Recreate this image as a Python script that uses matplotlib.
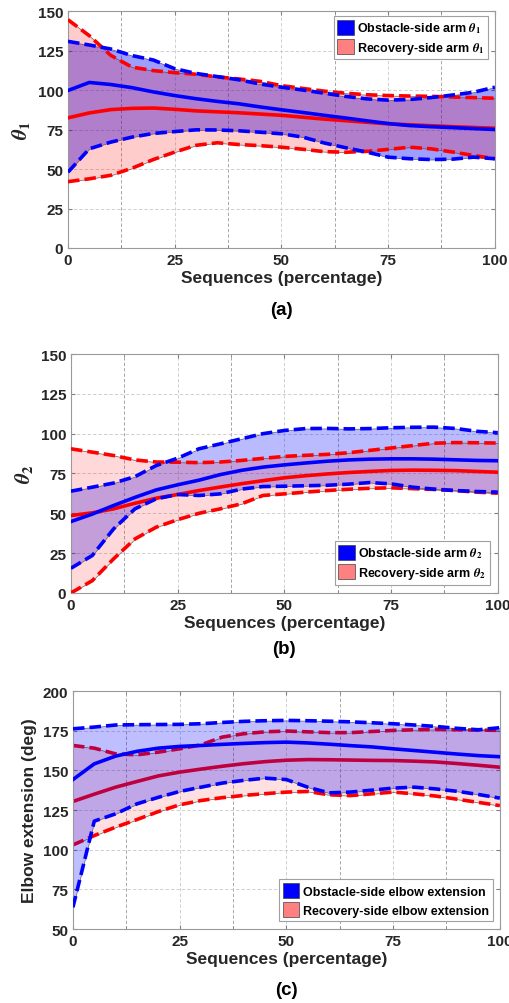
import numpy as np
import matplotlib
matplotlib.use("Agg")
import matplotlib.pyplot as plt
from matplotlib.patches import Patch
from matplotlib.ticker import MultipleLocator

plt.rcParams['font.family'] = ['Liberation Sans', 'DejaVu Sans']
plt.rcParams['font.weight'] = 'bold'
plt.rcParams['axes.labelweight'] = 'bold'
plt.rcParams['mathtext.fontset'] = 'stix'

# sequence position (percentage)
seq = [0, 5, 10, 15, 20, 25, 30, 35, 40, 45, 50, 55, 60, 65, 70, 75, 80, 85, 90, 95, 100]
x_ticks = [0, 25, 50, 75, 100]

# (a) theta 1
a_obs_mean = [99.7, 104.8, 103.5, 101.5, 98.8, 96.5, 94.5, 92.8, 91.3, 89.3, 87.5,
              85.8, 84.0, 82.3, 80.5, 78.8, 77.5, 76.8, 76.2, 75.6, 75.0]
a_obs_up = [130.8, 128.5, 126.0, 121.8, 119.0, 113.5, 110.5, 108.5, 106.5, 103.8, 101.8,
            100.0, 98.0, 96.0, 94.4, 93.6, 94.0, 95.2, 96.8, 98.6, 101.8]
a_obs_lo = [48.0, 62.8, 67.0, 70.2, 72.5, 73.7, 74.8, 74.7, 74.2, 73.3, 72.3,
            70.2, 66.5, 63.5, 60.7, 57.5, 56.5, 56.0, 56.2, 57.5, 56.5]
a_rec_mean = [82.4, 85.5, 87.6, 88.4, 88.6, 87.8, 86.8, 86.2, 85.6, 84.8, 84.0,
              82.8, 81.6, 80.6, 79.6, 78.6, 78.0, 77.4, 76.8, 76.3, 75.8]
a_rec_up = [144.5, 134.4, 122.0, 114.5, 112.3, 111.0, 110.0, 108.3, 107.0, 105.5, 102.8,
            101.0, 99.3, 98.0, 97.0, 96.5, 96.2, 96.0, 95.6, 95.2, 94.8]
a_rec_lo = [42.0, 43.8, 46.0, 50.5, 56.0, 60.7, 65.0, 66.6, 65.5, 64.8, 63.8,
            62.5, 61.0, 60.6, 61.2, 62.4, 63.8, 62.8, 60.8, 58.6, 56.5]

# (b) theta 2
b_obs_mean = [44.8, 49.5, 54.9, 60.0, 64.7, 67.9, 70.8, 74.3, 77.0, 79.0, 80.4,
              81.6, 82.7, 83.5, 84.0, 84.2, 84.2, 84.0, 83.6, 83.2, 83.0]
b_obs_up = [63.9, 66.4, 69.0, 73.0, 80.0, 84.6, 90.5, 93.6, 96.8, 100.0, 102.0,
            103.2, 103.3, 103.0, 103.2, 103.7, 104.0, 104.1, 103.3, 101.5, 100.6]
b_obs_lo = [15.5, 23.5, 40.2, 52.8, 59.1, 61.8, 61.2, 62.2, 65.2, 66.8, 67.0,
            67.3, 67.6, 68.3, 69.3, 68.5, 66.4, 65.2, 64.3, 63.7, 63.3]
b_rec_mean = [48.6, 50.3, 52.8, 56.3, 59.5, 61.8, 64.3, 66.5, 68.6, 70.5, 72.3,
              73.6, 74.7, 75.6, 76.3, 76.9, 77.1, 77.0, 76.8, 76.3, 75.8]
b_rec_up = [90.5, 88.4, 86.3, 83.5, 82.2, 82.1, 81.8, 82.2, 83.2, 84.5, 85.7,
            86.4, 87.0, 88.0, 89.5, 91.0, 92.5, 94.0, 94.4, 94.3, 94.1]
b_rec_lo = [0.0, 7.7, 21.4, 33.9, 41.3, 46.0, 50.0, 52.8, 56.0, 61.2, 62.2,
            63.3, 64.3, 65.1, 65.7, 66.0, 65.5, 65.0, 64.3, 63.3, 62.6]

# (c) elbow extension
c_obs_mean = [144.2, 154.1, 159.0, 162.0, 164.0, 165.1, 165.7, 166.4, 167.0, 167.5, 167.8,
              167.3, 166.5, 165.6, 164.8, 163.6, 162.5, 161.4, 160.3, 159.3, 158.6]
c_obs_up = [176.2, 177.3, 178.6, 178.8, 178.9, 179.0, 179.4, 180.2, 180.9, 181.3, 181.5,
            181.3, 181.0, 180.6, 180.0, 179.4, 178.6, 177.7, 176.5, 175.6, 176.9]
c_obs_lo = [63.7, 118.0, 122.6, 128.9, 133.0, 136.7, 139.4, 142.0, 143.7, 145.1, 144.2,
            139.4, 135.8, 136.3, 137.5, 138.8, 139.4, 138.3, 136.8, 134.8, 132.5]
c_rec_mean = [130.4, 135.0, 139.4, 143.0, 146.5, 148.9, 150.8, 152.6, 154.2, 155.5, 156.4,
              156.8, 156.7, 156.5, 156.3, 156.2, 155.8, 155.3, 154.3, 153.2, 152.0]
c_rec_up = [165.7, 164.0, 160.4, 159.8, 161.5, 163.6, 166.1, 171.0, 173.1, 174.3, 174.8,
            174.3, 173.8, 173.8, 174.5, 175.2, 175.6, 175.8, 175.6, 175.4, 175.2]
c_rec_lo = [103.0, 108.9, 114.2, 119.0, 124.0, 128.3, 131.0, 132.8, 134.2, 135.3, 136.3,
            136.7, 134.6, 134.1, 135.2, 136.3, 135.2, 133.8, 131.8, 129.8, 127.8]

TXT = '#262626'
LW = 2.6
DASH = (3.2, 1.4)


def panel(ax, obs, rec, ylim, ylabel, labels, leg_loc, leg_anchor,
          a_blue, a_red, red_under_blue=False):
    x = np.array(seq)
    o_mean, o_up, o_lo = obs
    r_mean, r_up, r_lo = rec

    if red_under_blue:
        z_bfill, z_rfill, z_rline = 2, 1, 1.5
    else:
        z_bfill, z_rfill, z_rline = 1, 1.2, 3

    ax.fill_between(x, o_lo, o_up, facecolor=(0, 0, 1, a_blue),
                    edgecolor=(0.25, 0.25, 0.25, 0.8), lw=0.5, zorder=z_bfill)
    ax.fill_between(x, r_lo, r_up, facecolor=(1, 0, 0, a_red),
                    edgecolor=(0.25, 0.25, 0.25, 0.8), lw=0.5, zorder=z_rfill)

    for y in (r_up, r_lo):
        ax.plot(x, y, color='red', lw=LW, dashes=DASH, zorder=z_rline)
    ax.plot(x, r_mean, color='red', lw=LW, zorder=z_rline)
    for y in (o_up, o_lo):
        ax.plot(x, y, color='blue', lw=LW, dashes=DASH, zorder=3.2)
    ax.plot(x, o_mean, color='blue', lw=LW, zorder=3.2)

    ax.set_xlim(0, 100)
    ax.set_ylim(*ylim)
    y_ticks = list(range(ylim[0], ylim[1] + 1, 25))
    ax.set_xticks(x_ticks, labels=[str(v) for v in x_ticks], fontweight='bold')
    ax.set_yticks(y_ticks, labels=[str(v) for v in y_ticks], fontweight='bold')
    ax.xaxis.set_minor_locator(MultipleLocator(12.5))
    ax.tick_params(which='both', direction='in', top=True, right=True,
                   colors='#808080', labelcolor=TXT, labelsize=11)
    ax.tick_params(which='major', length=3)
    ax.tick_params(which='minor', length=2)
    ax.set_axisbelow(True)
    ax.grid(True, which='major', color='#c8c8c8', ls=(0, (4, 2.5)), lw=0.6)
    ax.grid(True, which='minor', axis='x', color='#9a9a9a', ls=(0, (4, 2.5)), lw=0.6)
    for s in ax.spines.values():
        s.set_color('#9a9a9a')
        s.set_linewidth(0.8)

    ax.set_xlabel('Sequences (percentage)', fontsize=12.5, color=TXT,
                  fontweight='bold', labelpad=2)
    ax.set_ylabel(ylabel, fontsize=15 if '$' in ylabel else 12.5, color=TXT,
                  fontweight='bold', labelpad=4)

    handles = [Patch(facecolor='blue', edgecolor='#404040', lw=0.5, label=labels[0]),
               Patch(facecolor='#ff8080', edgecolor='#404040', lw=0.5, label=labels[1])]
    leg = ax.legend(handles=handles, loc=leg_loc, bbox_to_anchor=leg_anchor,
                    borderaxespad=0, fancybox=False, framealpha=1, edgecolor='#a0a0a0',
                    prop={'size': 9, 'weight': 'bold'}, handlelength=1.3, handleheight=1.5,
                    handletextpad=0.3, labelspacing=0.3, borderpad=0.3)
    leg.get_frame().set_linewidth(0.8)
    leg.set_zorder(10)


fig = plt.figure(figsize=(5.1, 10.04), dpi=100)
ax1 = fig.add_axes([0.1333, 0.752, 0.837, 0.236])
ax2 = fig.add_axes([0.139, 0.4084, 0.837, 0.238])
ax3 = fig.add_axes([0.143, 0.0737, 0.837, 0.237])

panel(ax1, (a_obs_mean, a_obs_up, a_obs_lo), (a_rec_mean, a_rec_up, a_rec_lo),
      (0, 150), r'$\theta_1$',
      [r'Obstacle-side arm $\theta_1$', r'Recovery-side arm $\theta_1$'],
      'upper right', (0.985, 0.98), 0.38, 0.2)
panel(ax2, (b_obs_mean, b_obs_up, b_obs_lo), (b_rec_mean, b_rec_up, b_rec_lo),
      (0, 150), r'$\theta_2$',
      [r'Obstacle-side arm $\theta_2$', r'Recovery-side arm $\theta_2$'],
      'lower right', (0.982, 0.035), 0.27, 0.15)
panel(ax3, (c_obs_mean, c_obs_up, c_obs_lo), (c_rec_mean, c_rec_up, c_rec_lo),
      (50, 200), 'Elbow extension (deg)',
      ['Obstacle-side elbow extension', 'Recovery-side elbow extension'],
      'lower right', (0.984, 0.034), 0.25, 0.12, red_under_blue=True)

for ax, lab, yy in ((ax1, '(a)', 0.691), (ax2, '(b)', 0.3526), (ax3, '(c)', 0.0139)):
    pos = ax.get_position()
    fig.text(pos.x0 + pos.width / 2, yy, lab, ha='center', va='center',
             fontsize=13.5, color='black', fontweight='bold')

fig.savefig('out.png', dpi=100)
